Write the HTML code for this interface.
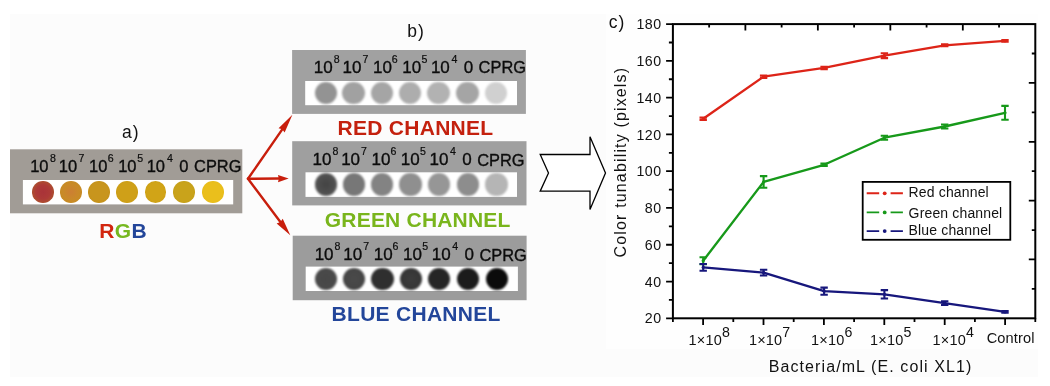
<!DOCTYPE html><html><head><meta charset="utf-8"><title>Color tunability figure</title><style>
html,body{margin:0;padding:0;background:#fff;}
body{width:1050px;height:386px;overflow:hidden;position:relative;font-family:"Liberation Sans",Arial,sans-serif;color:#111;}
#bg{position:absolute;left:10px;top:14px;width:1028px;height:363px;background:#fcfcfc;}
#chartbg{position:absolute;left:606px;top:14px;width:432px;height:335px;background:#fefefe;}
.box{position:absolute;}
.strip{position:absolute;background:#fff;}
.dot{position:absolute;border-radius:50%;}
.t{position:absolute;white-space:nowrap;line-height:1;}
.lab{font-size:16.5px;color:#0c0c0c;-webkit-text-stroke:0.35px #0c0c0c;}
.sup{font-size:10.6px;color:#0c0c0c;-webkit-text-stroke:0.2px #0c0c0c;}
.ch{font-weight:bold;font-size:21px;letter-spacing:0.28px;}
.pl{font-size:17.5px;color:#111;letter-spacing:1px;}
svg{position:absolute;left:0;top:0;}
svg text{font-family:"Liberation Sans",Arial,sans-serif;fill:#111;}
</style></head><body>
<div id="bg"></div><div id="chartbg"></div>
<svg width="1050" height="386" viewBox="0 0 1050 386"><rect x="10" y="149.3" width="232.3" height="64" fill="#a19c96"/><rect x="22.9" y="180" width="210.3" height="24.4" fill="#fff"/></svg>
<div class="dot" style="left:32.25px;top:181.25px;width:21.7px;height:21.7px;background:radial-gradient(circle at 50% 50%, #a93339 0%, #ad3a37 45%, #ad552d 80%, #ac6829 100%);filter:blur(0.7px)"></div>
<div class="dot" style="left:59.95px;top:181.25px;width:21.7px;height:21.7px;background:radial-gradient(circle at 50% 50%, #cc7f33 0%, #c98a28 50%, #c38c20 100%);filter:blur(0.7px)"></div>
<div class="dot" style="left:88.15px;top:181.25px;width:21.7px;height:21.7px;background:radial-gradient(circle at 50% 50%, #c8951d 0%, #c8951d 55%, #bf8d1a 100%);filter:blur(0.7px)"></div>
<div class="dot" style="left:116.45px;top:181.25px;width:21.7px;height:21.7px;background:radial-gradient(circle at 50% 50%, #cfa018 0%, #cfa018 55%, #c79a16 100%);filter:blur(0.7px)"></div>
<div class="dot" style="left:144.55px;top:181.25px;width:21.7px;height:21.7px;background:radial-gradient(circle at 50% 50%, #d1a417 0%, #d1a417 55%, #c99d15 100%);filter:blur(0.7px)"></div>
<div class="dot" style="left:173.35px;top:181.25px;width:21.7px;height:21.7px;background:radial-gradient(circle at 50% 50%, #c9a31b 0%, #c9a31b 55%, #c09b18 100%);filter:blur(0.7px)"></div>
<div class="dot" style="left:201.85px;top:181.25px;width:21.7px;height:21.7px;background:radial-gradient(circle at 50% 50%, #eabf1c 0%, #eabf1c 55%, #e4b81a 100%);filter:blur(0.7px)"></div>
<span class="t lab" style="font-size:16.5px;left:30.18px;top:157.7px">10</span>
<span class="t sup" style="left:50px;top:152.59px">8</span>
<span class="t lab" style="font-size:16.5px;left:58.79px;top:157.7px">10</span>
<span class="t sup" style="left:78.5px;top:152.59px">7</span>
<span class="t lab" style="font-size:16.5px;left:89.08px;top:157.7px">10</span>
<span class="t sup" style="left:107.7px;top:152.59px">6</span>
<span class="t lab" style="font-size:16.5px;left:118.19px;top:157.7px">10</span>
<span class="t sup" style="left:137.2px;top:152.59px">5</span>
<span class="t lab" style="font-size:16.5px;left:146.69px;top:157.7px">10</span>
<span class="t sup" style="left:167px;top:152.59px">4</span>
<span class="t lab" style="font-size:16.5px;left:179.2px;top:157.7px">0</span>
<span class="t lab" style="font-size:16.4px;left:194.1px;top:157.79px">CPRG</span>
<svg width="1050" height="386" viewBox="0 0 1050 386"><rect x="292.1" y="50" width="233.8" height="63.9" fill="#a1a1a1"/><rect x="305.2" y="81" width="211.8" height="24.2" fill="#fff"/></svg>
<div class="dot" style="left:314.5px;top:81.75px;width:22.4px;height:22.4px;background:#939393;filter:blur(0.85px)"></div>
<div class="dot" style="left:342.2px;top:81.75px;width:22.4px;height:22.4px;background:#a1a1a1;filter:blur(0.85px)"></div>
<div class="dot" style="left:370.8px;top:81.75px;width:22.4px;height:22.4px;background:#a5a5a5;filter:blur(0.85px)"></div>
<div class="dot" style="left:399px;top:81.75px;width:22.4px;height:22.4px;background:#adadad;filter:blur(0.85px)"></div>
<div class="dot" style="left:427.3px;top:81.75px;width:22.4px;height:22.4px;background:#b2b2b2;filter:blur(0.85px)"></div>
<div class="dot" style="left:456.3px;top:81.75px;width:22.4px;height:22.4px;background:#a5a5a5;filter:blur(0.85px)"></div>
<div class="dot" style="left:485.1px;top:81.75px;width:22.4px;height:22.4px;background:#d0d0d0;filter:blur(0.85px)"></div>
<span class="t lab" style="font-size:17px;left:313.83px;top:58.65px">10</span>
<span class="t sup" style="left:333.8px;top:53.63px">8</span>
<span class="t lab" style="font-size:17px;left:342.57px;top:58.65px">10</span>
<span class="t sup" style="left:362.44px;top:53.63px">7</span>
<span class="t lab" style="font-size:17px;left:373.02px;top:58.65px">10</span>
<span class="t sup" style="left:391.79px;top:53.63px">6</span>
<span class="t lab" style="font-size:17px;left:402.27px;top:58.65px">10</span>
<span class="t sup" style="left:421.43px;top:53.63px">5</span>
<span class="t lab" style="font-size:17px;left:430.91px;top:58.65px">10</span>
<span class="t sup" style="left:451.38px;top:53.63px">4</span>
<span class="t lab" style="font-size:17px;left:463.64px;top:58.65px">0</span>
<span class="t lab" style="font-size:16.4px;left:478.62px;top:59.19px">CPRG</span>
<svg width="1050" height="386" viewBox="0 0 1050 386"><rect x="292.2" y="141.2" width="234.3" height="64.2" fill="#9f9f9f"/><rect x="305.5" y="172.3" width="211.5" height="24.6" fill="#fff"/></svg>
<div class="dot" style="left:314.8px;top:173.3px;width:22.4px;height:22.4px;background:radial-gradient(circle,#444 0%,#4e4e4e 50%,#666 100%);filter:blur(0.85px)"></div>
<div class="dot" style="left:342.5px;top:173.3px;width:22.4px;height:22.4px;background:#777;filter:blur(0.85px)"></div>
<div class="dot" style="left:371.1px;top:173.3px;width:22.4px;height:22.4px;background:#838383;filter:blur(0.85px)"></div>
<div class="dot" style="left:399.3px;top:173.3px;width:22.4px;height:22.4px;background:#8f8f8f;filter:blur(0.85px)"></div>
<div class="dot" style="left:427.6px;top:173.3px;width:22.4px;height:22.4px;background:#969696;filter:blur(0.85px)"></div>
<div class="dot" style="left:456.6px;top:173.3px;width:22.4px;height:22.4px;background:#8d8d8d;filter:blur(0.85px)"></div>
<div class="dot" style="left:485.4px;top:173.3px;width:22.4px;height:22.4px;background:#b5b5b5;filter:blur(0.85px)"></div>
<span class="t lab" style="font-size:17px;left:312.43px;top:151.46px">10</span>
<span class="t sup" style="left:332.4px;top:146.43px">8</span>
<span class="t lab" style="font-size:17px;left:341.17px;top:151.46px">10</span>
<span class="t sup" style="left:361.04px;top:146.43px">7</span>
<span class="t lab" style="font-size:17px;left:371.62px;top:151.46px">10</span>
<span class="t sup" style="left:390.39px;top:146.43px">6</span>
<span class="t lab" style="font-size:17px;left:400.87px;top:151.46px">10</span>
<span class="t sup" style="left:420.03px;top:146.43px">5</span>
<span class="t lab" style="font-size:17px;left:429.51px;top:151.46px">10</span>
<span class="t sup" style="left:449.98px;top:146.43px">4</span>
<span class="t lab" style="font-size:17px;left:462.24px;top:151.46px">0</span>
<span class="t lab" style="font-size:16.4px;left:477.22px;top:151.99px">CPRG</span>
<svg width="1050" height="386" viewBox="0 0 1050 386"><rect x="292.7" y="235.7" width="233.9" height="64.5" fill="#9c9c9c"/><rect x="305.7" y="266.6" width="212.2" height="24.4" fill="#fff"/></svg>
<div class="dot" style="left:315.1px;top:267.5px;width:22.4px;height:22.4px;background:radial-gradient(circle,#474747 0%,#4a4a4a 60%,#3c3c3c 100%);filter:blur(0.85px)"></div>
<div class="dot" style="left:342.8px;top:267.5px;width:22.4px;height:22.4px;background:radial-gradient(circle,#4a4a4a 0%,#464646 60%,#383838 100%);filter:blur(0.85px)"></div>
<div class="dot" style="left:371.4px;top:267.5px;width:22.4px;height:22.4px;background:#2f2f2f;filter:blur(0.85px)"></div>
<div class="dot" style="left:399.6px;top:267.5px;width:22.4px;height:22.4px;background:radial-gradient(circle,#3c3c3c 0%,#363636 60%,#2a2a2a 100%);filter:blur(0.85px)"></div>
<div class="dot" style="left:427.9px;top:267.5px;width:22.4px;height:22.4px;background:#252525;filter:blur(0.85px)"></div>
<div class="dot" style="left:456.9px;top:267.5px;width:22.4px;height:22.4px;background:#1b1b1b;filter:blur(0.85px)"></div>
<div class="dot" style="left:485.7px;top:267.5px;width:22.4px;height:22.4px;background:#0b0b0b;filter:blur(0.85px)"></div>
<span class="t lab" style="font-size:17px;left:314.63px;top:246.25px">10</span>
<span class="t sup" style="left:334.6px;top:241.23px">8</span>
<span class="t lab" style="font-size:17px;left:343.37px;top:246.25px">10</span>
<span class="t sup" style="left:363.24px;top:241.23px">7</span>
<span class="t lab" style="font-size:17px;left:373.82px;top:246.25px">10</span>
<span class="t sup" style="left:392.59px;top:241.23px">6</span>
<span class="t lab" style="font-size:17px;left:403.07px;top:246.25px">10</span>
<span class="t sup" style="left:422.23px;top:241.23px">5</span>
<span class="t lab" style="font-size:17px;left:431.71px;top:246.25px">10</span>
<span class="t sup" style="left:452.18px;top:241.23px">4</span>
<span class="t lab" style="font-size:17px;left:464.44px;top:246.25px">0</span>
<span class="t lab" style="font-size:16.4px;left:479.42px;top:246.79px">CPRG</span>
<span class="t ch" style="left:337.5px;top:117px;color:#c4210e">RED CHANNEL</span>
<span class="t ch" style="left:324.8px;top:209.1px;letter-spacing:0.2px;color:#79b51c">GREEN CHANNEL</span>
<span class="t ch" style="left:331.6px;top:302.5px;color:#23469a">BLUE CHANNEL</span>
<span class="t ch" style="left:99.3px;top:219.8px"><span style="color:#d2260f">R</span><span style="color:#76b820">G</span><span style="color:#23469a">B</span></span>
<span class="t pl" style="left:122px;top:124.3px">a)</span>
<span class="t pl" style="left:407.3px;top:22.8px">b)</span>
<span class="t pl" style="left:608.8px;top:14.4px">c)</span>
<svg width="1050" height="386" viewBox="0 0 1050 386">
<line x1="248" y1="178.8" x2="282.26" y2="129.33" stroke="#c81e0c" stroke-width="2.4" stroke-linecap="round"/><polygon points="292.4,114.7 284.62,132.43 282.26,129.33 278.54,128.21" fill="#c81e0c"/>
<line x1="248" y1="178.8" x2="278.8" y2="178.57" stroke="#c81e0c" stroke-width="2.4" stroke-linecap="round"/><polygon points="288.7,178.5 278.03,182.18 278.8,178.57 277.97,174.98" fill="#c81e0c"/>
<line x1="248" y1="178.8" x2="280.41" y2="222.09" stroke="#c81e0c" stroke-width="2.4" stroke-linecap="round"/><polygon points="290.3,235.3 276.65,223.41 280.41,222.09 282.73,218.85" fill="#c81e0c"/>
<polygon points="540.2,154.5 590,154.5 590,136.8 605.5,173.1 590,209.4 590,191.2 540.2,191.2 548.5,173.1" fill="#fff" stroke="#000" stroke-width="1.3" stroke-linejoin="miter"/>
<rect x="672.9" y="24.1" width="362.4" height="294.2" fill="#fff" stroke="#000" stroke-width="2"/>
<path d="M672.9 24.1h-6.8M672.9 42.49h-4M672.9 60.88h-6.8M672.9 79.26h-4M672.9 97.65h-6.8M672.9 116.04h-4M672.9 134.42h-6.8M672.9 152.81h-4M672.9 171.2h-6.8M672.9 189.59h-4M672.9 207.97h-6.8M672.9 226.36h-4M672.9 244.75h-6.8M672.9 263.14h-4M672.9 281.53h-6.8M672.9 299.91h-4M672.9 318.3h-6.8M1035.3 53.52h-3.5M1035.3 82.94h-6.5M1035.3 112.36h-3.5M1035.3 141.78h-6.5M1035.3 171.2h-3.5M1035.3 200.62h-6.5M1035.3 230.04h-3.5M1035.3 259.46h-6.5M1035.3 288.88h-3.5M672.9 318.3v3.6M703.1 318.3v6.6M733.3 318.3v3.6M763.5 318.3v6.6M793.7 318.3v3.6M823.9 318.3v6.6M854.1 318.3v3.6M884.3 318.3v6.6M914.5 318.3v3.6M944.7 318.3v6.6M974.9 318.3v3.6M1005.1 318.3v6.6M1035.3 318.3v3.6M709.14 24.1v3.5M745.38 24.1v6.5M781.62 24.1v3.5M817.86 24.1v6.5M854.1 24.1v3.5M890.34 24.1v6.5M926.58 24.1v3.5M962.82 24.1v6.5M999.06 24.1v3.5" stroke="#000" stroke-width="1.8" fill="none"/>
<text x="661.5" y="323.4" font-size="14.2" text-anchor="end" letter-spacing="0.45">20</text>
<text x="661.5" y="286.63" font-size="14.2" text-anchor="end" letter-spacing="0.45">40</text>
<text x="661.5" y="249.85" font-size="14.2" text-anchor="end" letter-spacing="0.45">60</text>
<text x="661.5" y="213.07" font-size="14.2" text-anchor="end" letter-spacing="0.45">80</text>
<text x="661.5" y="176.3" font-size="14.2" text-anchor="end" letter-spacing="0.45">100</text>
<text x="661.5" y="139.53" font-size="14.2" text-anchor="end" letter-spacing="0.45">120</text>
<text x="661.5" y="102.75" font-size="14.2" text-anchor="end" letter-spacing="0.45">140</text>
<text x="661.5" y="65.97" font-size="14.2" text-anchor="end" letter-spacing="0.45">160</text>
<text x="661.5" y="29.2" font-size="14.2" text-anchor="end" letter-spacing="0.45">180</text>
<text x="688.5" y="345.4" font-size="14.5" letter-spacing="0.2">1×10<tspan dy="-8" font-size="14.2">8</tspan></text>
<text x="748.9" y="345.4" font-size="14.5" letter-spacing="0.2">1×10<tspan dy="-8" font-size="14.2">7</tspan></text>
<text x="811" y="345.4" font-size="14.5" letter-spacing="0.2">1×10<tspan dy="-8" font-size="14.2">6</tspan></text>
<text x="870.1" y="345.4" font-size="14.5" letter-spacing="0.2">1×10<tspan dy="-8" font-size="14.2">5</tspan></text>
<text x="932.6" y="345.4" font-size="14.5" letter-spacing="0.2">1×10<tspan dy="-8" font-size="14.2">4</tspan></text>
<text x="1010.6" y="343.2" font-size="14.6" text-anchor="middle" letter-spacing="0.12">Control</text>
<text x="870.6" y="372.1" font-size="16" text-anchor="middle" letter-spacing="1.1">Bacteria/mL (E. coli XL1)</text>
<text transform="translate(625.8,162.1) rotate(-90)" font-size="16" text-anchor="middle" letter-spacing="1.15">Color tunability (pixels)</text>
<polyline points="703.2,118.7 763.6,76.7 824.1,67.9 884.4,55.7 944.7,45.3 1005,40.8" fill="none" stroke="#dd2418" stroke-width="2.35" stroke-linejoin="round"/>
<path d="M703.2 117.5v2.4M699.5 117.5h7.4M699.5 119.9h7.4M763.6 75.5v2.4M759.9 75.5h7.4M759.9 77.9h7.4M824.1 66.7v2.4M820.4 66.7h7.4M820.4 69.1h7.4M884.4 53.3v4.8M880.7 53.3h7.4M880.7 58.1h7.4M944.7 44.3v2M941 44.3h7.4M941 46.3h7.4M1005 40v1.6M1001.3 40h7.4M1001.3 41.6h7.4" stroke="#dd2418" stroke-width="2.1" fill="none"/>
<circle cx="703.2" cy="118.7" r="1.6" fill="#dd2418"/>
<circle cx="763.6" cy="76.7" r="1.6" fill="#dd2418"/>
<circle cx="824.1" cy="67.9" r="1.6" fill="#dd2418"/>
<circle cx="884.4" cy="55.7" r="1.6" fill="#dd2418"/>
<circle cx="944.7" cy="45.3" r="1.6" fill="#dd2418"/>
<circle cx="1005" cy="40.8" r="1.6" fill="#dd2418"/>
<polyline points="703.2,260.7 763.6,181.95 824.1,164.8 884.4,137.7 944.7,126.5 1005,112.8" fill="none" stroke="#17991a" stroke-width="2.35" stroke-linejoin="round"/>
<path d="M703.2 257.2v7M699.5 257.2h7.4M699.5 264.2h7.4M763.6 176.1v11.7M759.9 176.1h7.4M759.9 187.8h7.4M824.1 163.6v2.4M820.4 163.6h7.4M820.4 166h7.4M884.4 135.7v4M880.7 135.7h7.4M880.7 139.7h7.4M944.7 124.5v4M941 124.5h7.4M941 128.5h7.4M1005 105.9v13.8M1001.3 105.9h7.4M1001.3 119.7h7.4" stroke="#17991a" stroke-width="2.1" fill="none"/>
<circle cx="703.2" cy="260.7" r="1.6" fill="#17991a"/>
<circle cx="763.6" cy="181.95" r="1.6" fill="#17991a"/>
<circle cx="824.1" cy="164.8" r="1.6" fill="#17991a"/>
<circle cx="884.4" cy="137.7" r="1.6" fill="#17991a"/>
<circle cx="944.7" cy="126.5" r="1.6" fill="#17991a"/>
<circle cx="1005" cy="112.8" r="1.6" fill="#17991a"/>
<polyline points="703.2,267.4 763.6,272.6 824.1,291.2 884.4,294.3 944.7,303.1 1005,311.9" fill="none" stroke="#17177c" stroke-width="2.35" stroke-linejoin="round"/>
<path d="M703.2 264v6.8M699.5 264h7.4M699.5 270.8h7.4M763.6 269.7v5.8M759.9 269.7h7.4M759.9 275.5h7.4M824.1 287.6v7.2M820.4 287.6h7.4M820.4 294.8h7.4M884.4 290.1v8.4M880.7 290.1h7.4M880.7 298.5h7.4M944.7 301.2v3.8M941 301.2h7.4M941 305h7.4M1005 311v1.8M1001.3 311h7.4M1001.3 312.8h7.4" stroke="#17177c" stroke-width="2.1" fill="none"/>
<circle cx="703.2" cy="267.4" r="1.6" fill="#17177c"/>
<circle cx="763.6" cy="272.6" r="1.6" fill="#17177c"/>
<circle cx="824.1" cy="291.2" r="1.6" fill="#17177c"/>
<circle cx="884.4" cy="294.3" r="1.6" fill="#17177c"/>
<circle cx="944.7" cy="303.1" r="1.6" fill="#17177c"/>
<circle cx="1005" cy="311.9" r="1.6" fill="#17177c"/>
<rect x="862.7" y="181.9" width="147.6" height="57.9" fill="#fff" stroke="#000" stroke-width="1.8"/>
<path d="M866.7 193.3h12.5M890.6 193.3h12.3" stroke="#dd2418" stroke-width="1.9"/>
<circle cx="884.7" cy="193.3" r="1.9" fill="#dd2418"/>
<text x="908.6" y="197.4" font-size="14" letter-spacing="0.15">Red channel</text>
<path d="M866.7 212.4h12.5M890.6 212.4h12.3" stroke="#17991a" stroke-width="1.9"/>
<circle cx="884.7" cy="212.4" r="1.9" fill="#17991a"/>
<text x="908.6" y="217.5" font-size="14" letter-spacing="0.15">Green channel</text>
<path d="M866.7 231.1h12.5M890.6 231.1h12.3" stroke="#17177c" stroke-width="1.9"/>
<circle cx="884.7" cy="231.1" r="1.9" fill="#17177c"/>
<text x="908.6" y="234.5" font-size="14" letter-spacing="0.15">Blue channel</text>
</svg>
</body></html>
